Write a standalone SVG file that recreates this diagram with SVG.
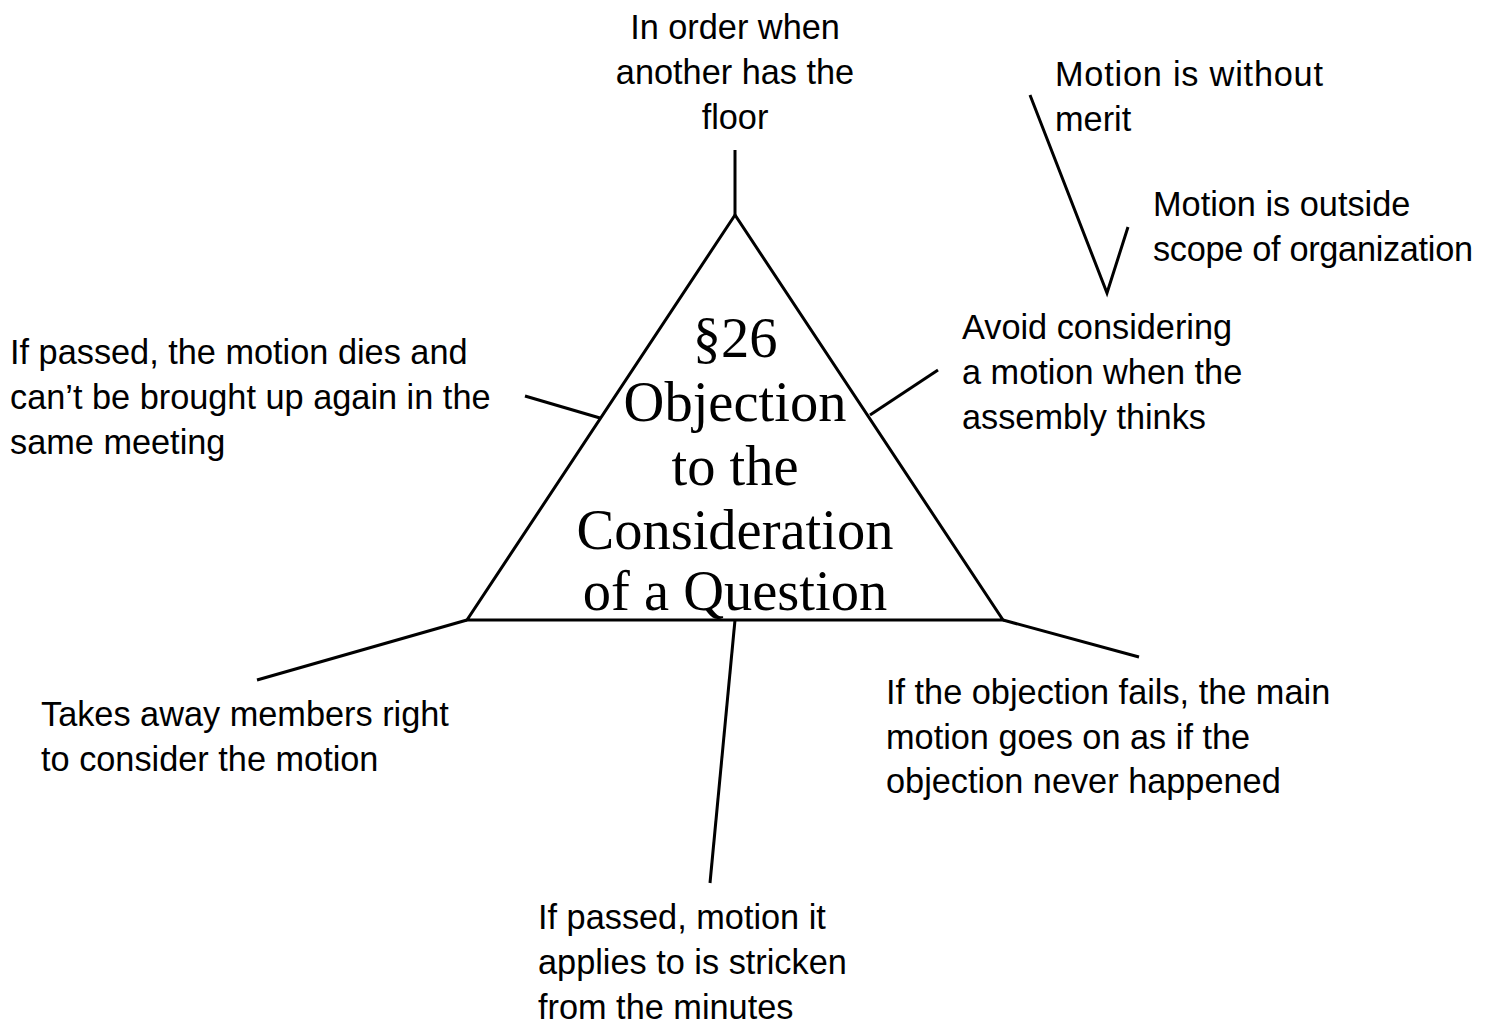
<svg xmlns="http://www.w3.org/2000/svg" width="1490" height="1024" viewBox="0 0 1490 1024">
  <style>
    .lbl { font-family: "Liberation Sans", "Open Sans", sans-serif; font-size: 34.3px; fill: #000; }
    .mid { text-anchor: middle; }
    .title { font-family: "Liberation Serif", "DejaVu Serif", serif; font-size: 56.5px; fill: #000; text-anchor: middle; }
    .ln { stroke: #000; stroke-width: 3; fill: none; stroke-linecap: butt; stroke-linejoin: miter; }
  </style>
  <rect width="1490" height="1024" fill="#fff"/>

  <!-- central triangle -->
  <g id="node-center">
    <polygon class="ln" points="735,215 467,620 1003,620"/>
    <text class="title" x="735" y="357">§26</text>
    <text class="title" x="735" y="421">Objection</text>
    <text class="title" x="735" y="485">to the</text>
    <text class="title" x="735" y="549">Consideration</text>
    <text class="title" x="735" y="610">of a Question</text>
  </g>

  <!-- connectors -->
  <g id="connectors">
    <line class="ln" x1="735" y1="150" x2="735" y2="215"/>
    <line class="ln" x1="525" y1="396" x2="600" y2="418"/>
    <line class="ln" x1="870" y1="415" x2="938" y2="370"/>
    <polyline class="ln" points="1030,95 1107,293 1128,227"/>
    <line class="ln" x1="467" y1="620" x2="257" y2="680"/>
    <line class="ln" x1="1003" y1="620" x2="1139" y2="657"/>
    <line class="ln" x1="735" y1="620" x2="710" y2="883"/>
  </g>

  <g id="node-floor">
    <text class="lbl mid" x="735" y="39">In order when</text>
    <text class="lbl mid" x="735" y="84">another has the</text>
    <text class="lbl mid" x="735" y="129">floor</text>
  </g>

  <g id="node-merit">
    <text class="lbl" x="1055" y="86" textLength="268">Motion is without</text>
    <text class="lbl" x="1055" y="131">merit</text>
  </g>

  <g id="node-scope">
    <text class="lbl" x="1153" y="216">Motion is outside</text>
    <text class="lbl" x="1153" y="261" textLength="320">scope of organization</text>
  </g>

  <g id="node-avoid">
    <text class="lbl" x="962" y="339">Avoid considering</text>
    <text class="lbl" x="962" y="384">a motion when the</text>
    <text class="lbl" x="962" y="429">assembly thinks</text>
  </g>

  <g id="node-dies">
    <text class="lbl" x="10" y="364">If passed, the motion dies and</text>
    <text class="lbl" x="10" y="409">can’t be brought up again in the</text>
    <text class="lbl" x="10" y="454">same meeting</text>
  </g>

  <g id="node-takes">
    <text class="lbl" x="41" y="726">Takes away members right</text>
    <text class="lbl" x="41" y="771">to consider the motion</text>
  </g>

  <g id="node-fails">
    <text class="lbl" x="886" y="704">If the objection fails, the main</text>
    <text class="lbl" x="886" y="749">motion goes on as if the</text>
    <text class="lbl" x="886" y="793">objection never happened</text>
  </g>

  <g id="node-stricken">
    <text class="lbl" x="538" y="929">If passed, motion it</text>
    <text class="lbl" x="538" y="974">applies to is stricken</text>
    <text class="lbl" x="538" y="1019">from the minutes</text>
  </g>
</svg>
